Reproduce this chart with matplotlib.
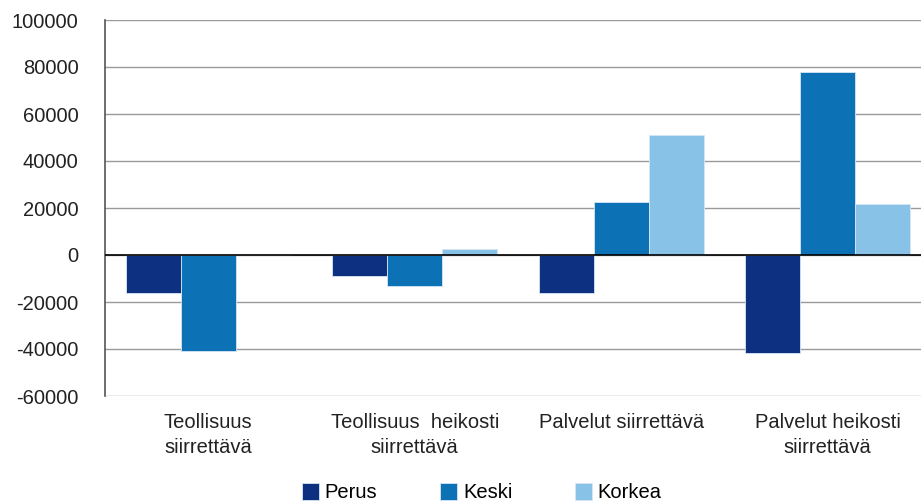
import matplotlib
matplotlib.use("Agg")
import matplotlib.pyplot as plt
import numpy as np

plt.rcParams['font.family'] = ['Liberation Sans', 'DejaVu Sans']

categories = ["Teollisuus\nsiirrettävä", "Teollisuus  heikosti\nsiirrettävä",
              "Palvelut siirrettävä", "Palvelut heikosti\nsiirrettävä"]
series_names = ["Perus", "Keski", "Korkea"]
perus = [-16000, -9000, -16000, -41700]
keski = [-41000, -13200, 22500, 77700]
korkea = [200, 2500, 51200, 21800]
yticks = [-60000, -40000, -20000, 0, 20000, 40000, 60000, 80000, 100000]

colors = ["#0d3180", "#0c72b5", "#88c2e6"]

fig = plt.figure(figsize=(9.21, 5.03), dpi=100)
ax = fig.add_axes([105/921, 1-396/503, 826/921, (396-20)/503])

x = np.arange(len(categories))
w = 0.266
for i, (vals, name, c) in enumerate(zip([perus, keski, korkea], series_names, colors)):
    ax.bar(x + (i-1)*w, vals, width=w, color=c, label=name,
           edgecolor="#d6e6f5", linewidth=0.6, zorder=3)

ax.set_xlim(-0.5, 3.5)
ax.set_ylim(-60000, 100000)
ax.set_yticks(yticks)
ax.set_yticklabels([str(v) for v in yticks])
ax.yaxis.grid(True, color="#9a9a9a", linewidth=1.0, zorder=0)
ax.axhline(0, color="black", linewidth=1.2, zorder=4)
ax.set_xticks(x)
ax.set_xticklabels(categories, linespacing=1.45)
ax.tick_params(axis='both', length=0, labelsize=14.5, colors="#222222")
ax.tick_params(axis='y', pad=19)
ax.tick_params(axis='x', pad=12)
for s in ["top", "right", "bottom"]:
    ax.spines[s].set_visible(False)
ax.spines["left"].set_color("#555555")
ax.spines["left"].set_linewidth(1.2)

fig.legend(loc="lower center", bbox_to_anchor=(0.523, -0.035), ncol=3, frameon=False,
           fontsize=14.5, handlelength=0.85, handleheight=0.85, handletextpad=0.3,
           columnspacing=3.1)

fig.savefig("out.png", dpi=100)
